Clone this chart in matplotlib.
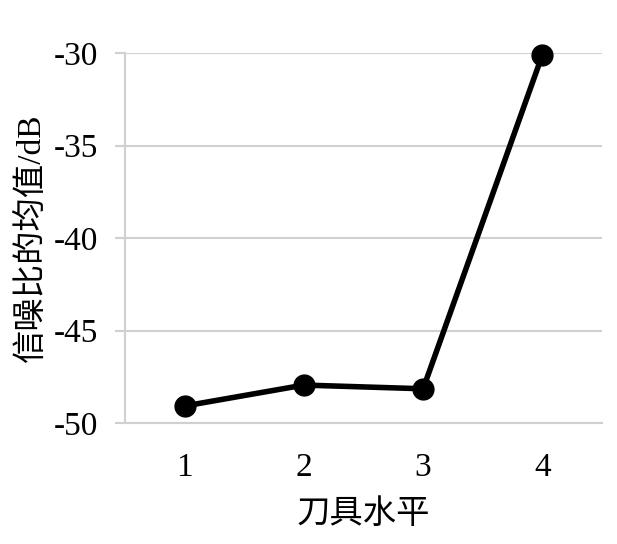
import matplotlib
matplotlib.use("Agg")
import matplotlib.pyplot as plt

levels = [1, 2, 3, 4]
snr_mean = [-49.08, -47.95, -48.15, -30.1]
y_ticks = [-50, -45, -40, -35, -30]
x_label = "刀具水平"
y_label = "信噪比的均值/dB"

plt.rcParams['font.family'] = ['Liberation Serif', 'Noto Sans CJK SC']

fig = plt.figure(figsize=(6.17, 5.44), dpi=100)
ax = fig.add_axes([125/617, 1-423/544, 477/617, 370/544])

grid_c = '#d0d0d0'
for t in y_ticks:
    ax.axhline(t, color=grid_c, lw=1.5, zorder=1)

ax.plot(levels, snr_mean, color='black', lw=4.0, marker='o', markersize=15,
        zorder=3, solid_capstyle='round', clip_on=False)

ax.set_xlim(0.5, 4.5)
ax.set_ylim(-50, -30)
ax.set_yticks(y_ticks)
ax.set_yticklabels([str(t) for t in y_ticks])
ax.set_xticks(levels)
ax.set_xticklabels([str(l) for l in levels])

for s in ['top', 'right']:
    ax.spines[s].set_visible(False)
ax.spines['left'].set_color(grid_c)
ax.spines['left'].set_linewidth(1.5)
ax.spines['bottom'].set_color(grid_c)
ax.spines['bottom'].set_linewidth(1.5)

ax.tick_params(axis='y', length=7.2, width=1.5, color=grid_c, pad=12, labelsize=24)
ax.tick_params(axis='x', length=0, pad=21, labelsize=24)

ax.set_xlabel(x_label, fontsize=24, labelpad=12)
ax.set_ylabel(y_label, fontsize=24, labelpad=5)

fig.savefig("out.png", dpi=100)
